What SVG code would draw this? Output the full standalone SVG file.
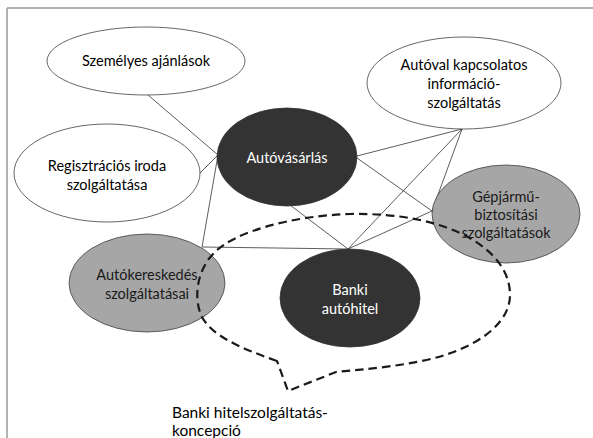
<svg xmlns="http://www.w3.org/2000/svg" width="593" height="438" viewBox="0 0 593 438">
<style>
.t{font-family:Lato,"Open Sans","Liberation Sans",sans-serif;font-size:14.5px;text-anchor:middle;dominant-baseline:central}
.cap{font-family:Lato,"Open Sans","Liberation Sans",sans-serif;font-size:15.5px;fill:#000}
.w{fill:#ffffff;stroke:#404040;stroke-width:0.8}
.d{fill:#333333;stroke:#333333;stroke-width:0.8}
.g{fill:#a6a6a6;stroke:#404040;stroke-width:0.8}
.tb{fill:#000}
.tw{fill:#fff}
.tg{fill:#1a1a1a}
.c line{stroke:#333;stroke-width:0.8}
</style>
<rect width="593" height="438" fill="#fff"/>
<g id="frame" stroke="#999" stroke-width="1.5" fill="none">
<line x1="7" y1="8" x2="593" y2="8"/>
<line x1="7" y1="8" x2="7" y2="438"/>
</g>
<g id="connectors" class="c">
<line x1="148" y1="95" x2="218" y2="155"/>
<line x1="200" y1="173" x2="218" y2="155"/>
<line x1="218" y1="155" x2="202" y2="247"/>
<line x1="202" y1="247" x2="348" y2="249"/>
<line x1="290" y1="205" x2="348" y2="249"/>
<line x1="357" y1="156" x2="462" y2="129"/>
<line x1="357" y1="158" x2="432" y2="211"/>
<line x1="462" y1="129" x2="348" y2="249"/>
<line x1="462" y1="129" x2="432" y2="211"/>
<line x1="432" y1="211" x2="348" y2="249"/>
</g>
<g id="szemelyes">
<ellipse class="w" cx="146" cy="61" rx="99" ry="34"/>
<text class="t tb" x="146" y="60">Személyes ajánlások</text>
</g>
<g id="autoval">
<ellipse class="w" cx="464" cy="83" rx="97" ry="46"/>
<text class="t tb" x="464" y="64">Autóval kapcsolatos</text>
<text class="t tb" x="464" y="83">információ-</text>
<text class="t tb" x="464" y="102">szolgáltatás</text>
</g>
<g id="regisztracios">
<ellipse class="w" cx="107" cy="173" rx="93" ry="49"/>
<text class="t tb" x="107" y="165">Regisztrációs iroda</text>
<text class="t tb" x="107" y="184">szolgáltatása</text>
</g>
<g id="autovasarlas">
<ellipse class="d" cx="287" cy="157" rx="70" ry="49"/>
<text class="t tw" x="287" y="157">Autóvásárlás</text>
</g>
<g id="gepjarmu">
<ellipse class="g" cx="506" cy="214" rx="74" ry="49"/>
<text class="t tg" x="506" y="196">Gépjármű-</text>
<text class="t tg" x="506" y="214">biztosítási</text>
<text class="t tg" x="506" y="232">szolgáltatások</text>
</g>
<g id="autokereskedes">
<ellipse class="g" cx="147" cy="283" rx="78" ry="49"/>
<text class="t tg" x="147" y="274">Autókereskedés</text>
<text class="t tg" x="147" y="293">szolgáltatásai</text>
</g>
<g id="banki">
<ellipse class="d" cx="350" cy="298" rx="70" ry="49"/>
<text class="t tw" x="350" y="289">Banki</text>
<text class="t tw" x="350" y="308">autóhitel</text>
</g>
<g id="koncepcio">
<path d="M277,361 C240,348 210,335 201,315 C193,295 198,268 215,252 C235,232 290,216 350,214 C400,213 440,222 468,237 C495,252 510,272 510,295 C510,320 485,342 445,355 C410,366 365,369 336,372 L288,391 Z" fill="none" stroke="#1a1a1a" stroke-width="2.2" stroke-dasharray="8.5 5"/>
<text class="cap" x="172" y="418">Banki hitelszolgáltatás-</text>
<text class="cap" x="172" y="436">koncepció</text>
</g>
</svg>
